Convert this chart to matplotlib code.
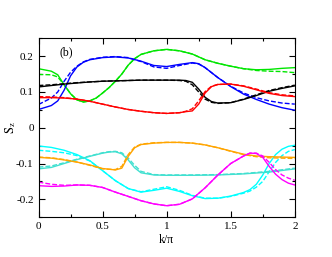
import matplotlib
matplotlib.use('Agg')
import matplotlib.pyplot as plt
from matplotlib.ticker import MultipleLocator

plt.rcParams['font.family'] = ['Liberation Serif', 'DejaVu Serif']
plt.rcParams['mathtext.fontset'] = 'stix'

# values, S_z vs k/pi
k_green = [0, 0.1, 0.15, 0.2, 0.25, 0.3, 0.35, 0.4, 0.45, 0.5, 0.55, 0.6, 0.65, 0.7, 0.75, 0.8, 0.9, 1.0, 1.1, 1.2, 1.3, 1.4, 1.5, 1.6, 1.7, 1.8, 1.9, 2.0]
green = [0.165, 0.158, 0.148, 0.12, 0.095, 0.078, 0.072, 0.075, 0.083, 0.097, 0.112, 0.13, 0.15, 0.175, 0.193, 0.205, 0.215, 0.219, 0.215, 0.206, 0.19, 0.18, 0.172, 0.165, 0.162, 0.163, 0.166, 0.168]
green_d = [0.149, 0.148, 0.142, 0.12, 0.095, 0.078, 0.072, 0.075, 0.083, 0.097, 0.112, 0.13, 0.15, 0.175, 0.193, 0.205, 0.215, 0.219, 0.215, 0.206, 0.19, 0.18, 0.172, 0.165, 0.16, 0.158, 0.157, 0.154]

k_blue = [0, 0.1, 0.15, 0.2, 0.25, 0.3, 0.35, 0.4, 0.5, 0.6, 0.7, 0.8, 0.9, 1.0, 1.1, 1.2, 1.25, 1.3, 1.4, 1.5, 1.6, 1.7, 1.8, 1.9, 2.0]
blue = [0.051, 0.062, 0.075, 0.105, 0.145, 0.17, 0.183, 0.19, 0.196, 0.198, 0.195, 0.186, 0.174, 0.171, 0.177, 0.182, 0.179, 0.168, 0.14, 0.115, 0.094, 0.079, 0.066, 0.056, 0.049]
blue_d = [0.065, 0.083, 0.1, 0.13, 0.155, 0.172, 0.184, 0.191, 0.197, 0.199, 0.196, 0.185, 0.17, 0.166, 0.174, 0.181, 0.178, 0.168, 0.14, 0.116, 0.097, 0.084, 0.075, 0.069, 0.066]

k_black = [0, 0.1, 0.2, 0.3, 0.4, 0.5, 0.6, 0.7, 0.8, 0.9, 1.0, 1.1, 1.15, 1.2, 1.25, 1.3, 1.35, 1.4, 1.5, 1.6, 1.7, 1.8, 1.9, 2.0]
black = [0.114, 0.118, 0.122, 0.125, 0.128, 0.13, 0.131, 0.132, 0.133, 0.133, 0.133, 0.133, 0.132, 0.127, 0.108, 0.085, 0.073, 0.069, 0.07, 0.079, 0.09, 0.102, 0.11, 0.117]
black_d = [0.118, 0.12, 0.123, 0.126, 0.128, 0.13, 0.131, 0.132, 0.133, 0.133, 0.133, 0.132, 0.13, 0.12, 0.1, 0.08, 0.071, 0.068, 0.07, 0.08, 0.092, 0.104, 0.112, 0.119]

k_red = [0, 0.1, 0.2, 0.3, 0.4, 0.5, 0.6, 0.7, 0.8, 0.9, 1.0, 1.1, 1.15, 1.2, 1.25, 1.3, 1.35, 1.4, 1.5, 1.6, 1.7, 1.8, 1.9, 2.0]
red = [0.084, 0.084, 0.083, 0.08, 0.074, 0.066, 0.058, 0.051, 0.046, 0.042, 0.04, 0.042, 0.045, 0.047, 0.066, 0.097, 0.115, 0.121, 0.122, 0.116, 0.106, 0.096, 0.09, 0.087]
red_d = [0.087, 0.086, 0.084, 0.08, 0.074, 0.066, 0.058, 0.051, 0.046, 0.042, 0.04, 0.042, 0.046, 0.053, 0.075, 0.101, 0.116, 0.121, 0.122, 0.117, 0.108, 0.098, 0.092, 0.089]

k_cyan = [0, 0.1, 0.2, 0.3, 0.4, 0.5, 0.6, 0.7, 0.8, 0.9, 1.0, 1.1, 1.2, 1.3, 1.4, 1.5, 1.6, 1.65, 1.7, 1.75, 1.8, 1.85, 1.9, 1.95, 2.0]
cyan = [-0.051, -0.055, -0.063, -0.075, -0.092, -0.12, -0.148, -0.17, -0.18, -0.175, -0.169, -0.178, -0.19, -0.198, -0.197, -0.191, -0.181, -0.173, -0.158, -0.132, -0.1, -0.075, -0.06, -0.052, -0.049]
cyan_d = [-0.063, -0.066, -0.07, -0.078, -0.093, -0.12, -0.148, -0.17, -0.179, -0.172, -0.165, -0.175, -0.189, -0.197, -0.197, -0.192, -0.183, -0.177, -0.166, -0.15, -0.123, -0.097, -0.078, -0.066, -0.061]

k_turq = [0, 0.1, 0.2, 0.3, 0.4, 0.5, 0.55, 0.6, 0.65, 0.7, 0.75, 0.8, 0.9, 1.0, 1.2, 1.4, 1.6, 1.8, 2.0]
turq = [-0.115, -0.111, -0.1, -0.089, -0.08, -0.071, -0.068, -0.067, -0.073, -0.09, -0.112, -0.126, -0.132, -0.133, -0.133, -0.132, -0.129, -0.124, -0.115]
turq_d = [-0.11, -0.107, -0.098, -0.088, -0.079, -0.07, -0.067, -0.066, -0.07, -0.085, -0.105, -0.122, -0.131, -0.132, -0.132, -0.131, -0.128, -0.122, -0.113]

k_orange = [0, 0.1, 0.2, 0.3, 0.4, 0.5, 0.6, 0.65, 0.7, 0.75, 0.8, 0.9, 1.0, 1.1, 1.2, 1.3, 1.4, 1.5, 1.6, 1.7, 1.8, 1.9, 2.0]
orange = [-0.083, -0.085, -0.09, -0.096, -0.104, -0.114, -0.118, -0.113, -0.08, -0.056, -0.047, -0.043, -0.041, -0.041, -0.043, -0.048, -0.056, -0.065, -0.074, -0.079, -0.081, -0.082, -0.083]
orange_d = [-0.082, -0.084, -0.089, -0.096, -0.105, -0.115, -0.117, -0.108, -0.075, -0.054, -0.046, -0.042, -0.041, -0.041, -0.043, -0.048, -0.056, -0.066, -0.075, -0.081, -0.084, -0.085, -0.086]

k_mag = [0, 0.1, 0.2, 0.3, 0.4, 0.5, 0.6, 0.7, 0.8, 0.9, 1.0, 1.1, 1.2, 1.3, 1.4, 1.5, 1.6, 1.65, 1.7, 1.75, 1.8, 1.85, 1.9, 1.95, 2.0]
mag = [-0.162, -0.164, -0.163, -0.16, -0.161, -0.167, -0.18, -0.192, -0.204, -0.213, -0.218, -0.214, -0.199, -0.168, -0.132, -0.1, -0.079, -0.071, -0.072, -0.083, -0.108, -0.13, -0.145, -0.155, -0.16]
mag_d = [-0.152, -0.158, -0.161, -0.16, -0.161, -0.167, -0.18, -0.192, -0.204, -0.213, -0.218, -0.214, -0.199, -0.168, -0.132, -0.1, -0.079, -0.071, -0.071, -0.079, -0.097, -0.117, -0.132, -0.141, -0.147]

fig = plt.figure(figsize=(3.32, 2.57), dpi=100)
ax = fig.add_axes([0.116, 0.155, 0.772, 0.696])

curves = [
    (k_green, green, green_d, '#00e600'),
    (k_blue, blue, blue_d, '#0000ff'),
    (k_black, black, black_d, 'black'),
    (k_red, red, red_d, '#ff0000'),
    (k_cyan, cyan, cyan_d, '#00ffff'),
    (k_turq, turq, turq_d, '#40e0d0'),
    (k_orange, orange, orange_d, '#ffa500'),
    (k_mag, mag, mag_d, '#ff00ff'),
]
for kk, s, sd, c in curves:
    ax.plot(kk, s, color=c, lw=1.0)
    ax.plot(kk, sd, color=c, lw=1.0, dashes=(3.5, 1.5))

ax.set_xlim(0, 2)
ax.set_ylim(-0.25, 0.25)
ax.xaxis.set_minor_locator(MultipleLocator(0.25))
ax.yaxis.set_minor_locator(MultipleLocator(0.05))
ax.set_xticks([0, 0.5, 1, 1.5, 2])
ax.set_xticklabels(['0', '0.5', '1', '1.5', '2'])
ax.set_yticks([-0.2, -0.1, 0, 0.1, 0.2])
ax.set_yticklabels(['-0.2', '-0.1', '0', '0.1', '0.2'])
ax.tick_params(which='both', direction='in', top=True, right=True, labelsize=8, width=0.8)
ax.tick_params(which='major', length=4)
ax.tick_params(which='minor', length=2.5)
for sp in ax.spines.values():
    sp.set_linewidth(0.8)

ax.set_xlabel('k/π', fontsize=8.5, labelpad=2)
ax.set_ylabel(r'$\mathrm{S}_\mathrm{z}$', fontsize=9, va='center')
ax.yaxis.set_label_coords(-0.11, 0.5)
ax.text(0.107, 0.923, '(b)', transform=ax.transAxes, fontsize=8.5, ha='center', va='center')

fig.savefig('out.png', dpi=100)
